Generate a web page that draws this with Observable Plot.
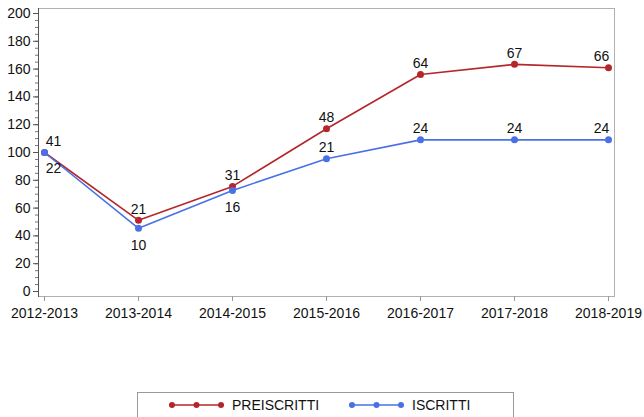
<!DOCTYPE html>
<html>
<head>
<meta charset="utf-8">
<script src="https://cdn.jsdelivr.net/npm/d3@7"></script>
<script src="https://cdn.jsdelivr.net/npm/@observablehq/plot@0.6"></script>
<style>
  body { margin: 0; background: #fff; font-family: "Liberation Sans", Arial, sans-serif; }
  #legend { position: absolute; left: 137px; top: 392px; width: 377px; height: 40px; border: 1px solid #9a9a9a; box-sizing: border-box; }
  #legend .item { position: absolute; top: 4px; display: flex; align-items: center; font-size: 14px; color: #111; }
  #legend svg { margin-right: 7px; }
</style>
</head>
<body>
<div id="chart"></div>
<div id="legend"></div>
<script>
const years = ["2012-2013","2013-2014","2014-2015","2015-2016","2016-2017","2017-2018","2018-2019"];
const preiscrittiIndex = [100, 51.2, 75.6, 117.1, 156.1, 163.4, 161.0];
const preiscrittiCount = [41, 21, 31, 48, 64, 67, 66];
const iscrittiIndex = [100, 45.5, 72.7, 95.5, 109.1, 109.1, 109.1];
const iscrittiCount = [22, 10, 16, 21, 24, 24, 24];
const yTicks = [0,20,40,60,80,100,120,140,160,180,200];
const yMinorTicks = d3.range(0, 201, 5);
const seriesNames = ["PREISCRITTI", "ISCRITTI"];

const RED = "#b5262b", BLUE = "#4a70e6";

const red = years.map((y, i) => ({year: y, v: preiscrittiIndex[i], n: preiscrittiCount[i], i}));
const blue = years.map((y, i) => ({year: y, v: iscrittiIndex[i], n: iscrittiCount[i], i}));
const last = years.length - 1;

const common = {fontSize: 14, fill: "#111", textAnchor: "middle", lineAnchor: "middle"};

const plot = Plot.plot({
  width: 644,
  height: 326,
  marginLeft: 38,
  marginRight: 30,
  marginTop: 8,
  marginBottom: 30,
  style: {fontFamily: "'Liberation Sans', Arial, sans-serif", fontSize: "14px", color: "#111", background: "#fff"},
  x: {type: "point", domain: years, padding: 0, insetLeft: 4, insetRight: 4, label: null},
  y: {domain: [0, 200], insetTop: 5, insetBottom: 5, label: null},
  marks: [
    Plot.frame({stroke: "#b0b0b0"}),
    Plot.frame({anchor: "left", stroke: "#555"}),
    Plot.axisY(yMinorTicks, {tickSize: 3, text: null, stroke: "#777", label: null}),
    Plot.axisY(yTicks, {tickSize: 5, tickPadding: 3, stroke: "#555", fontSize: 14, label: null}),
    Plot.axisX({tickSize: 5, tickPadding: 7, stroke: "#999", fontSize: 14, label: null}),
    Plot.line(red, {x: "year", y: "v", stroke: RED, strokeWidth: 1.6}),
    Plot.dot(red, {x: "year", y: "v", fill: RED, r: 3.5}),
    Plot.line(blue, {x: "year", y: "v", stroke: BLUE, strokeWidth: 1.6}),
    Plot.dot(blue, {x: "year", y: "v", fill: BLUE, r: 3.5}),
    Plot.text(red.filter(d => d.i > 0 && d.i < last), {x: "year", y: "v", text: "n", dy: -11, ...common}),
    Plot.text(red.filter(d => d.i === 0), {x: "year", y: "v", text: "n", dy: -11, dx: 9, ...common}),
    Plot.text(red.filter(d => d.i === last), {x: "year", y: "v", text: "n", dy: -11, dx: -7, ...common}),
    Plot.text(blue.filter(d => d.i > 0 && d.i <= 2), {x: "year", y: "v", text: "n", dy: 17, ...common}),
    Plot.text(blue.filter(d => d.i === 0), {x: "year", y: "v", text: "n", dy: 16, dx: 9, ...common}),
    Plot.text(blue.filter(d => d.i > 2 && d.i < last), {x: "year", y: "v", text: "n", dy: -11, ...common}),
    Plot.text(blue.filter(d => d.i === last), {x: "year", y: "v", text: "n", dy: -11, dx: -7, ...common})
  ]
});
document.getElementById("chart").appendChild(plot);

// Legend
const legend = document.getElementById("legend");
const items = [{name: seriesNames[0], color: RED, left: 30}, {name: seriesNames[1], color: BLUE, left: 210}];
for (const it of items) {
  const div = document.createElement("div");
  div.className = "item";
  div.style.left = it.left + "px";
  div.innerHTML = `<svg width="57" height="10"><line x1="1" x2="56" y1="5" y2="5" stroke="${it.color}" stroke-width="1.6"/>` +
    `<circle cx="4" cy="5" r="3" fill="${it.color}"/><circle cx="28.5" cy="5" r="3" fill="${it.color}"/><circle cx="53" cy="5" r="3" fill="${it.color}"/></svg><span>${it.name}</span>`;
  legend.appendChild(div);
}
</script>
</body>
</html>
